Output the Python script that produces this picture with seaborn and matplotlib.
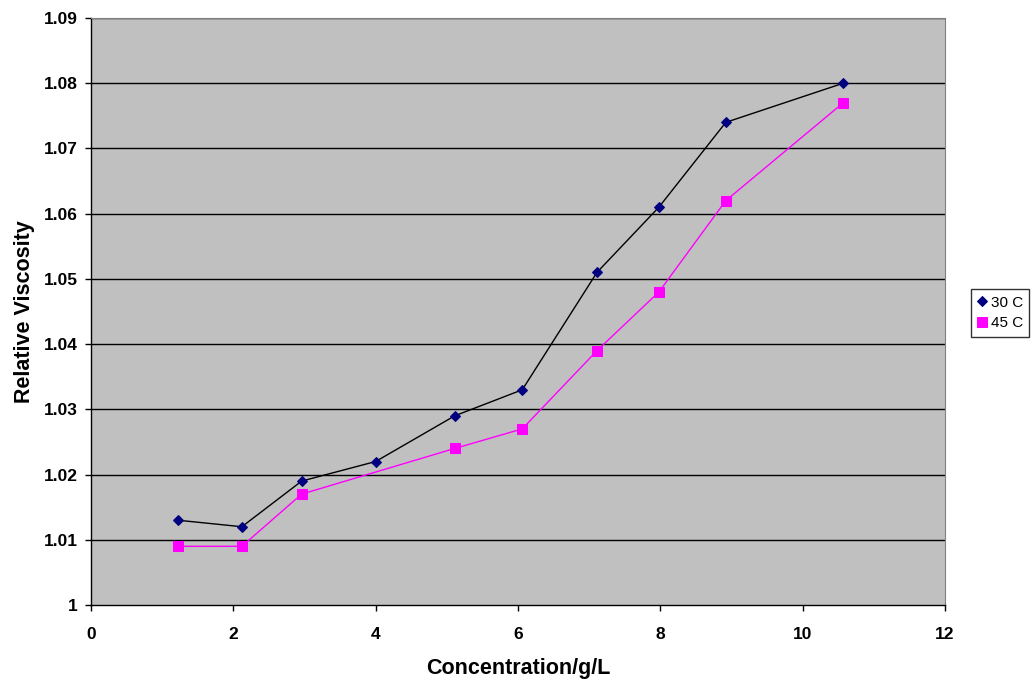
import matplotlib
matplotlib.use("Agg")
import matplotlib.pyplot as plt
import seaborn as sns
import pandas as pd

conc_30 = [1.22, 2.12, 2.96, 4.00, 5.11, 6.06, 7.11, 7.98, 8.92, 10.57]
visc_30 = [1.013, 1.012, 1.019, 1.022, 1.029, 1.033, 1.051, 1.061, 1.074, 1.080]
conc_45 = [1.22, 2.12, 2.96, 5.11, 6.06, 7.11, 7.98, 8.92, 10.57]
visc_45 = [1.009, 1.009, 1.017, 1.024, 1.027, 1.039, 1.048, 1.062, 1.077]
x_ticks = [0, 2, 4, 6, 8, 10, 12]
y_ticks = [1, 1.01, 1.02, 1.03, 1.04, 1.05, 1.06, 1.07, 1.08, 1.09]
y_labels = ["1", "1.01", "1.02", "1.03", "1.04", "1.05", "1.06", "1.07", "1.08", "1.09"]

sns.set_style("white")
plt.rcParams['font.family'] = ['Liberation Sans', 'DejaVu Sans']
plt.rcParams['text.color'] = 'black'
plt.rcParams['axes.labelcolor'] = 'black'
plt.rcParams['xtick.color'] = 'black'
plt.rcParams['ytick.color'] = 'black'

df30 = pd.DataFrame({"x": conc_30, "y": visc_30})
df45 = pd.DataFrame({"x": conc_45, "y": visc_45})

fig = plt.figure(figsize=(10.31, 6.8), dpi=100)
ax = fig.add_axes([91/1031, 1 - 605/680, (945 - 91)/1031, (605 - 18)/680])
ax.set_facecolor("#C0C0C0")

sns.lineplot(data=df30, x="x", y="y", ax=ax, color="black", linewidth=1,
             marker="D", markersize=5.5, markerfacecolor="#000080",
             markeredgecolor="#000080", label="30 C", sort=False)
sns.lineplot(data=df45, x="x", y="y", ax=ax, color="#FF00FF", linewidth=1,
             marker="s", markersize=7, markerfacecolor="#FF00FF",
             markeredgecolor="#FF00FF", label="45 C", sort=False)

ax.set_xlim(0, 12)
ax.set_ylim(1, 1.09)
ax.set_xticks(x_ticks)
ax.set_xticklabels([str(t) for t in x_ticks], fontsize=12.5, fontweight="bold")
ax.set_yticks(y_ticks)
ax.set_yticklabels(y_labels, fontsize=12.5, fontweight="bold")
for y in y_ticks[1:]:
    ax.axhline(y, color="black", linewidth=1, zorder=1)
ax.tick_params(axis="both", direction="out", length=4.5, width=1, color="black",
               labelcolor="black", bottom=True, left=True)
ax.tick_params(axis="y", pad=5)
ax.tick_params(axis="x", pad=11)
for s in ["top", "right"]:
    ax.spines[s].set_visible(True)
    ax.spines[s].set_color("#808080")
for s in ["left", "bottom"]:
    ax.spines[s].set_color("black")
    ax.spines[s].set_linewidth(1)

ax.set_xlabel("Concentration/g/L", fontsize=15.5, fontweight="bold", labelpad=12,
              color="black")
ax.set_ylabel("Relative Viscosity", fontsize=15.5, fontweight="bold", labelpad=6,
              color="black")

leg = ax.legend(loc="center left", bbox_to_anchor=(971/1031, 1 - 313/680),
                bbox_transform=fig.transFigure, frameon=True, fancybox=False,
                fontsize=11, handlelength=0.6, handletextpad=0.3,
                borderpad=0.4, labelspacing=0.45, borderaxespad=0)
leg.get_frame().set_edgecolor("black")
leg.get_frame().set_linewidth(1)
for t in leg.get_texts():
    t.set_color("black")
for h in leg.get_lines():
    h.set_linestyle("none")

fig.savefig("out.png", dpi=100)
